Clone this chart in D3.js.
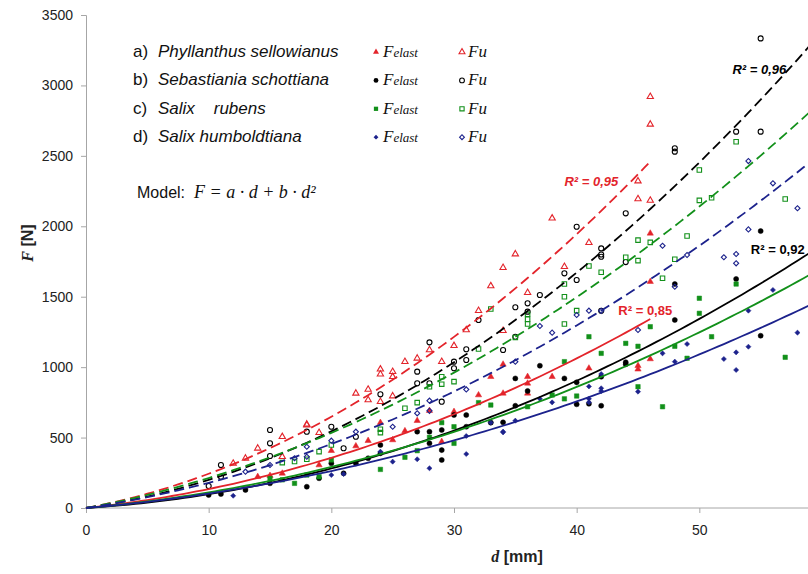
<!DOCTYPE html>
<html>
<head>
<meta charset="utf-8">
<script src="https://cdn.jsdelivr.net/npm/d3@7"></script>
<style>
  body { margin: 0; background: #fff; }
  svg { display: block; }
  .tick text { font-family: "Liberation Sans", Arial, sans-serif; font-size: 14px; fill: #222; }
</style>
</head>
<body>
<svg id="chart" width="808" height="574"></svg>
<script>
// species and legend
const species = ["a)", "b)", "c)", "d)"];
const speciesNames = ["Phyllanthus sellowianus", "Sebastiania schottiana", "Salix    rubens", "Salix humboldtiana"];
const xTicks = [0, 10, 20, 30, 40, 50];
const yTicks = [0, 500, 1000, 1500, 2000, 2500, 3000, 3500];

// measured points [d mm, F N]
const aElast = [[14,222],[15,230],[16,246],[19,305],[20,407],[22,440],[23,478],[24,606],[25,483],[26,547],[27,620],[28,691],[29,471],[30,684],[32,802],[33,932],[34,1020],[34,814],[36,932],[36,885],[36,814],[38,932],[41,992],[45,1010],[45,985],[46,1058],[46,1607],[46,1950]];
const aFu = [[12,317],[13,353],[14,424],[16,506],[16,364],[18,594],[18,589],[19,535],[22,814],[23,842],[23,767],[24,985],[24,950],[24,755],[25,968],[25,932],[25,795],[26,1039],[27,1063],[28,1122],[29,1039],[30,1152],[31,1264],[32,1401],[33,1576],[34,1706],[34,1259],[35,1803],[36,1529],[38,2057],[39,1713],[41,1884],[45,2321],[45,2194],[46,2184],[46,2724],[46,2920]];
const bElast = [[10,92],[11,99],[13,128],[15,175],[18,151],[19,211],[20,317],[21,246],[22,317],[23,353],[24,388],[24,447],[27,542],[28,542],[28,459],[29,554],[29,411],[29,341],[30,660],[31,660],[31,577],[33,606],[34,608],[35,920],[35,726],[36,831],[37,1010],[39,920],[40,892],[40,736],[41,740],[42,932],[42,726],[44,1035],[44,1020],[48,1590],[48,1335],[53,1626],[55,1223],[55,1966]];
const bFu = [[10,156],[11,305],[11,222],[15,554],[15,459],[15,369],[18,542],[20,577],[21,424],[22,506],[24,807],[27,968],[27,885],[28,1176],[28,885],[29,755],[30,1039],[30,992],[31,1127],[31,1051],[32,1335],[34,1122],[35,1425],[35,1216],[36,1453],[36,1394],[37,1512],[39,1666],[40,1619],[40,1997],[42,1784],[42,1843],[42,1800],[42,1400],[44,1746],[44,2092],[48,2554],[48,2530],[53,2672],[55,2672],[55,3334]];
const cElast = [[15,210],[16,200],[17,175],[18,234],[19,222],[20,341],[24,274],[26,360],[27,407],[28,502],[29,606],[30,459],[30,577],[32,748],[33,731],[36,719],[38,802],[39,775],[39,1039],[40,795],[41,1216],[42,1098],[44,1169],[45,1148],[45,861],[46,1287],[47,719],[48,1148],[49,1063],[50,1489],[50,1382],[51,1216],[53,1590],[57,1070]];
const cFu = [[16,322],[17,330],[18,346],[19,400],[20,447],[24,559],[24,535],[26,708],[27,748],[28,861],[29,932],[29,879],[30,897],[32,1129],[33,1413],[35,1211],[36,1375],[36,1340],[36,1306],[39,1590],[39,1500],[39,1306],[40,1401],[41,1718],[42,1674],[44,1780],[45,1756],[45,1902],[46,1886],[47,1631],[48,1766],[49,1931],[50,2400],[50,2184],[51,2203],[53,2600],[57,2194]];
const dElast = [[12,87],[20,234],[21,241],[24,400],[25,329],[27,346],[28,282],[31,383],[31,511],[33,606],[34,542],[34,537],[35,620],[37,775],[38,750],[41,863],[41,775],[41,750],[42,951],[42,850],[42,830],[45,826],[47,1098],[48,1039],[49,1164],[52,1058],[53,1105],[53,980],[54,1401],[54,1145],[56,1548],[58,1245]];
const dFu = [[13,258],[15,305],[17,353],[18,364],[18,435],[20,478],[22,542],[25,577],[27,672],[28,762],[28,690],[31,842],[35,1039],[37,1292],[38,1245],[40,1370],[41,1401],[42,1400],[45,1264],[47,1862],[48,1571],[49,1796],[52,1780],[53,1803],[53,1737],[54,2463],[54,1978],[56,2305],[58,2128]];

// model F = a*d + b*d^2, per species: [elast, Fu]
const fitA = [[9.11, 16.2], [5.51, 12.64], [7.66, 15.9], [7.34, 13.05]];
const fitB = [[0.436, 0.81], [0.4268, 0.7285], [0.3456, 0.538], [0.2893, 0.4837]];
const fitMaxD = [46, 60, 60, 60];
const r2Labels = ["R² = 0,96", "R² = 0,95", "R² = 0,92", "R² = 0,85"];

const colors = ["#e3242b", "#000000", "#12901a", "#1c228c"];
const symbols = [d3.symbolTriangle, d3.symbolCircle, d3.symbolSquare, d3.symbolSquare];
const symRot = [0, 0, 0, 45];
const symSize = [17, 20, 20, 13];
const elastData = [aElast, bElast, cElast, dElast];
const fuData = [aFu, bFu, cFu, dFu];

const svg = d3.select("#chart");
const x = d3.scaleLinear().domain([0, 60]).range([86, 822]);
const y = d3.scaleLinear().domain([0, 3500]).range([508, 15]);

// axes
let xAxis = svg.append("g")
  .attr("transform", "translate(0,508)")
  .call(d3.axisBottom(x).tickValues(xTicks).tickFormat(d3.format("d")).tickSize(5).tickPadding(12));
let yAxis = svg.append("g")
  .attr("transform", "translate(86,0)")
  .call(d3.axisLeft(y).tickValues(yTicks).tickFormat(d3.format("d")).tickSize(5).tickPadding(8));
[xAxis, yAxis].forEach((g) => {
  g.select(".domain").attr("stroke", "#a6a6a6");
  g.selectAll(".tick line").attr("stroke", "#a6a6a6");
});
xAxis.select(".domain").attr("d", "M86,0H808");

// markers
function drawPoints(data, i, filled) {
  svg.append("g")
    .selectAll("path")
    .data(data)
    .join("path")
    .attr("transform", (p) => `translate(${x(p[0])},${y(p[1])}) rotate(${symRot[i]})`)
    .attr("d", d3.symbol().type(symbols[i]).size(symSize[i]))
    .attr("fill", filled ? colors[i] : "none")
    .attr("stroke", colors[i])
    .attr("stroke-width", filled ? 0.5 : 1.1);
}
for (let i = 0; i < 4; i++) {
  drawPoints(elastData[i], i, true);
  drawPoints(fuData[i], i, false);
}

// fitted curves
let line = d3.line().x((p) => x(p[0])).y((p) => y(p[1]));
for (let i = 0; i < 4; i++) {
  for (let k = 0; k < 2; k++) {
    let pts = d3.range(0, fitMaxD[i] + 0.01, 0.5).map((d) => [d, fitA[i][k] * d + fitB[i][k] * d * d]);
    svg.append("path")
      .attr("d", line(pts))
      .attr("fill", "none")
      .attr("stroke", colors[i])
      .attr("stroke-width", 1.8)
      .attr("stroke-dasharray", k == 1 ? "10,5" : null);
  }
}

// R² labels
const r2Pos = [[52.7, 3081, "italic", "#000"], [39.0, 2286, "italic", colors[0]], [54.2, 1803, "normal", "#000"], [43.4, 1370, "normal", colors[0]]];
r2Labels.forEach((t, i) => {
  svg.append("text")
    .attr("x", x(r2Pos[i][0]))
    .attr("y", y(r2Pos[i][1]))
    .attr("font-family", "Liberation Sans, Arial, sans-serif")
    .attr("font-size", 13)
    .attr("font-weight", "bold")
    .attr("font-style", r2Pos[i][2])
    .attr("fill", r2Pos[i][3])
    .text(t);
});

// legend
const sans = "Liberation Sans, Arial, sans-serif";
const serif = "Liberation Serif, Times New Roman, serif";
species.forEach((s, i) => {
  let yy = 57 + i * 28.4;
  let t = svg.append("text").attr("x", 133).attr("y", yy)
    .attr("font-family", sans).attr("font-size", 17).attr("fill", "#111");
  t.append("tspan").text(s);
  t.append("tspan").attr("x", 158).attr("font-style", "italic").style("white-space", "pre").text(speciesNames[i]);

  svg.append("path")
    .attr("transform", `translate(376,${yy - 5}) rotate(${symRot[i]})`)
    .attr("d", d3.symbol().type(symbols[i]).size(symSize[i] * 0.9))
    .attr("fill", colors[i]);
  let fe = svg.append("text").attr("x", 383).attr("y", yy)
    .attr("font-family", serif).attr("font-style", "italic").attr("fill", "#111");
  fe.append("tspan").attr("font-size", 17).text("F");
  fe.append("tspan").attr("font-size", 13).text("elast");

  svg.append("path")
    .attr("transform", `translate(462,${yy - 5}) rotate(${symRot[i]})`)
    .attr("d", d3.symbol().type(symbols[i]).size(symSize[i] * 0.9))
    .attr("fill", "none")
    .attr("stroke", colors[i])
    .attr("stroke-width", 1.1);
  svg.append("text").attr("x", 468).attr("y", yy)
    .attr("font-family", serif).attr("font-style", "italic").attr("font-size", 17)
    .attr("fill", "#111").text("Fu");
});

let model = svg.append("text").attr("x", 137).attr("y", 198).attr("fill", "#111");
model.append("tspan").attr("font-family", sans).attr("font-size", 16).text("Model:");
model.append("tspan").attr("x", 194).attr("font-family", serif).attr("font-style", "italic").attr("font-size", 18)
  .text("F = a · d + b · d²");

// axis titles
let xt = svg.append("text").attr("x", 517).attr("y", 562).attr("text-anchor", "middle")
  .attr("font-weight", "bold").attr("font-size", 16).attr("fill", "#222");
xt.append("tspan").attr("font-family", serif).attr("font-style", "italic").text("d");
xt.append("tspan").attr("font-family", sans).text(" [mm]");

let yt = svg.append("text").attr("transform", "translate(33,243) rotate(-90)").attr("text-anchor", "middle")
  .attr("font-weight", "bold").attr("font-size", 16).attr("fill", "#222");
yt.append("tspan").attr("font-family", serif).attr("font-style", "italic").text("F");
yt.append("tspan").attr("font-family", sans).text(" [N]");
</script>
</body>
</html>
